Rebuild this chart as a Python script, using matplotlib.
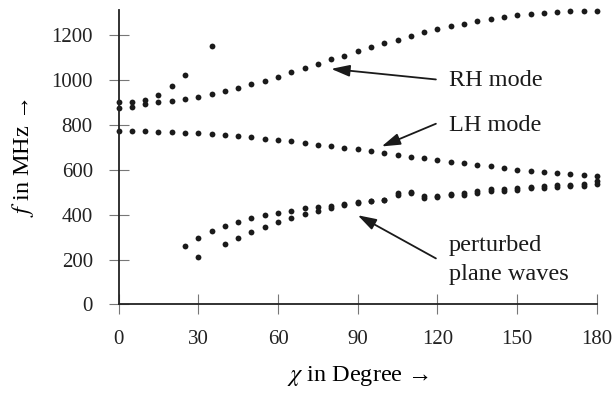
import matplotlib
matplotlib.use("Agg")
import matplotlib.pyplot as plt

plt.rcParams["font.family"] = ["Liberation Serif", "DejaVu Serif"]
plt.rcParams["mathtext.fontset"] = "stix"
plt.rcParams["font.size"] = 15

# angle grid (degrees) and measured frequencies (MHz)
deg_all = list(range(0, 185, 5))
rh_mode = [875, 877, 890, 899, 906, 916, 925, 937, 951, 964, 979, 995, 1014,
           1032, 1051, 1071, 1090, 1107, 1127, 1144, 1162, 1178, 1195, 1211,
           1224, 1237, 1249, 1259, 1270, 1277, 1286, 1292, 1297, 1301, 1304,
           1306, 1307]
lh_mode = [770, 770, 770, 769, 766, 764, 761, 758, 754, 749, 743, 738, 732,
           726, 718, 711, 705, 698, 690, 682, 674, 665, 658, 650, 643, 636,
           628, 621, 614, 606, 600, 594, 588, 584, 579, 576, 573]

deg_steep = [0, 5, 10, 15, 20, 25, 35]
steep = [899, 899, 908, 934, 971, 1022, 1150]

deg_pw_a = list(range(25, 185, 5))
pw_a = [261, 297, 325, 348, 368, 383, 396, 408, 418, 427, 433, 440, 445, 454,
        461, 467, 497, 502, 482, 484, 493, 497, 505, 512, 515, 518, 524, 528,
        531, 533, 536, 550]
deg_pw_b = [30] + list(range(40, 185, 5))
pw_b = [211, 270, 298, 323, 345, 368, 385, 402, 418, 430, 443, 452, 459, 465,
        489, 494, 474, 476, 485, 489, 497, 504, 507, 510, 516, 520, 523, 525,
        528, 534]

xticks = [0, 30, 60, 90, 120, 150, 180]
yticks = [0, 200, 400, 600, 800, 1000, 1200]

fig = plt.figure(figsize=(6.15, 3.93), dpi=100)
ax = fig.add_axes([0.1927, 0.2252, 0.778, 0.7494])

dot = dict(linestyle="none", marker="o", markersize=4.2, color="#1a1a1a",
           markeredgewidth=0, clip_on=False)
ax.plot(deg_all, rh_mode, **dot)
ax.plot(deg_all, lh_mode, **dot)
ax.plot(deg_steep, steep, **dot)
ax.plot(deg_pw_a, pw_a, **dot)
ax.plot(deg_pw_b, pw_b, **dot)

ax.set_xlim(0, 180)
ax.set_ylim(0, 1310)
ax.set_xticks(xticks)
ax.set_yticks(yticks)
for s in ["top", "right"]:
    ax.spines[s].set_visible(False)
for s in ["left", "bottom"]:
    ax.spines[s].set_linewidth(1.3)
    ax.spines[s].set_color("#222222")
ax.tick_params(direction="inout", length=15, width=0.8, color="#777777",
               pad=11, labelcolor="#222222")

ax.set_xlabel(r"$\chi$ in Degree →", fontsize=17.5, labelpad=11)
ax.set_ylabel(r"$f$ in MHz →", fontsize=17.5, labelpad=11)

# annotations: arrow tail sits a bit left of the label text
arrow = dict(arrowstyle="-|>,head_length=0.7,head_width=0.22",
             color="#1a1a1a", lw=1.3, mutation_scale=16,
             shrinkA=0, shrinkB=0)
ann = dict(fontsize=17.5, va="center", ha="left", color="#1a1a1a")
ax.annotate("", xy=(80, 1048), xytext=(119.4, 1001), arrowprops=arrow)
ax.text(124.3, 998, "RH mode", **ann)
ax.annotate("", xy=(99, 703), xytext=(119.4, 804), arrowprops=arrow)
ax.text(124.3, 797, "LH mode", **ann)
ax.annotate("", xy=(90, 397), xytext=(119.4, 205), arrowprops=arrow)
ax.text(124.3, 200, "perturbed\nplane waves", linespacing=1.5, **ann)

fig.savefig("out.png", dpi=100)
